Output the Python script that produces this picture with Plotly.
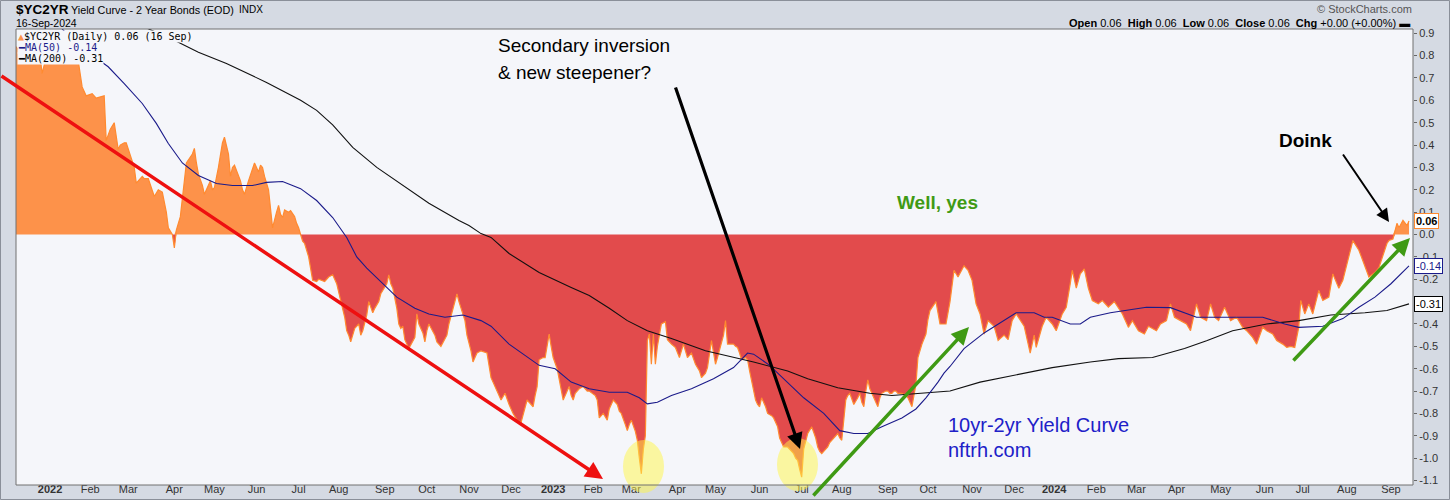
import plotly.graph_objects as go

# ---------------- data ----------------
dates = [
    "2021-12-08", "2021-12-13", "2021-12-17", "2021-12-22", "2021-12-27", "2021-12-28", "2021-12-30",
    "2022-01-03", "2022-01-07", "2022-01-11", "2022-01-14", "2022-01-20", "2022-01-24", "2022-01-26", "2022-01-28",
    "2022-02-02", "2022-02-04", "2022-02-10", "2022-02-11", "2022-02-15", "2022-02-17", "2022-02-22", "2022-02-23",
    "2022-02-25", "2022-02-28",
    "2022-03-04", "2022-03-07", "2022-03-10", "2022-03-11", "2022-03-15", "2022-03-18", "2022-03-22", "2022-03-24",
    "2022-03-28", "2022-03-29", "2022-03-31",
    "2022-04-01", "2022-04-04", "2022-04-06", "2022-04-08", "2022-04-11", "2022-04-14", "2022-04-18", "2022-04-19",
    "2022-04-20", "2022-04-22", "2022-04-25", "2022-04-27", "2022-04-28", "2022-04-29",
    "2022-05-02", "2022-05-04", "2022-05-05", "2022-05-06", "2022-05-09", "2022-05-11", "2022-05-12", "2022-05-13",
    "2022-05-16", "2022-05-18", "2022-05-19", "2022-05-20", "2022-05-23", "2022-05-25", "2022-05-26", "2022-05-27",
    "2022-05-31",
    "2022-06-02", "2022-06-03", "2022-06-06", "2022-06-07", "2022-06-09", "2022-06-10", "2022-06-13", "2022-06-15",
    "2022-06-16", "2022-06-17", "2022-06-21", "2022-06-22", "2022-06-24", "2022-06-27", "2022-06-29", "2022-06-30",
    "2022-07-01", "2022-07-05", "2022-07-06", "2022-07-07", "2022-07-11", "2022-07-13", "2022-07-15", "2022-07-18",
    "2022-07-21", "2022-07-25", "2022-07-27", "2022-07-29",
    "2022-08-02", "2022-08-04", "2022-08-05", "2022-08-08", "2022-08-09", "2022-08-11", "2022-08-15", "2022-08-16",
    "2022-08-17", "2022-08-19", "2022-08-22", "2022-08-24", "2022-08-25", "2022-08-29", "2022-08-30",
    "2022-09-02", "2022-09-06", "2022-09-07", "2022-09-08", "2022-09-12", "2022-09-13", "2022-09-14", "2022-09-15",
    "2022-09-16", "2022-09-20", "2022-09-22", "2022-09-23", "2022-09-26", "2022-09-27", "2022-09-29", "2022-09-30",
    "2022-10-03", "2022-10-04", "2022-10-07", "2022-10-10", "2022-10-12", "2022-10-17", "2022-10-18", "2022-10-20",
    "2022-10-24", "2022-10-25", "2022-10-27", "2022-10-28", "2022-10-31",
    "2022-11-02", "2022-11-03", "2022-11-07", "2022-11-09", "2022-11-14", "2022-11-16", "2022-11-18", "2022-11-23",
    "2022-11-28", "2022-11-30",
    "2022-12-02", "2022-12-06", "2022-12-08", "2022-12-12", "2022-12-13", "2022-12-15", "2022-12-16", "2022-12-19",
    "2022-12-20", "2022-12-21", "2022-12-23", "2022-12-27", "2022-12-28", "2022-12-29", "2022-12-30",
    "2023-01-03", "2023-01-05", "2023-01-06", "2023-01-09", "2023-01-10", "2023-01-12", "2023-01-13", "2023-01-17",
    "2023-01-18", "2023-01-19", "2023-01-20", "2023-01-23", "2023-01-25", "2023-01-27", "2023-01-30",
    "2023-02-02", "2023-02-03", "2023-02-06", "2023-02-08", "2023-02-10", "2023-02-13", "2023-02-15", "2023-02-16",
    "2023-02-17", "2023-02-21", "2023-02-22", "2023-02-24", "2023-02-27", "2023-02-28",
    "2023-03-01", "2023-03-03", "2023-03-06", "2023-03-07", "2023-03-08", "2023-03-09", "2023-03-10", "2023-03-13",
    "2023-03-14", "2023-03-15", "2023-03-16", "2023-03-17", "2023-03-20", "2023-03-22", "2023-03-24", "2023-03-27",
    "2023-03-29", "2023-03-31",
    "2023-04-03", "2023-04-04", "2023-04-05", "2023-04-06", "2023-04-10", "2023-04-11", "2023-04-13", "2023-04-14",
    "2023-04-17", "2023-04-19", "2023-04-20", "2023-04-24", "2023-04-25", "2023-04-27", "2023-04-28",
    "2023-05-01", "2023-05-02", "2023-05-03", "2023-05-05", "2023-05-08", "2023-05-09", "2023-05-11", "2023-05-12",
    "2023-05-15", "2023-05-16", "2023-05-17", "2023-05-18", "2023-05-22", "2023-05-23", "2023-05-24", "2023-05-25",
    "2023-05-26", "2023-05-30", "2023-05-31",
    "2023-06-01", "2023-06-02", "2023-06-06", "2023-06-07", "2023-06-09", "2023-06-12", "2023-06-14", "2023-06-15",
    "2023-06-16", "2023-06-20", "2023-06-21", "2023-06-22", "2023-06-26", "2023-06-27", "2023-06-28", "2023-06-29",
    "2023-06-30",
    "2023-07-03", "2023-07-05", "2023-07-06", "2023-07-07", "2023-07-11", "2023-07-13", "2023-07-14", "2023-07-17",
    "2023-07-18", "2023-07-20", "2023-07-21", "2023-07-24", "2023-07-25", "2023-07-27", "2023-07-28", "2023-07-31",
    "2023-08-01", "2023-08-03", "2023-08-04", "2023-08-07", "2023-08-09", "2023-08-11", "2023-08-14", "2023-08-15",
    "2023-08-16", "2023-08-17", "2023-08-18", "2023-08-21", "2023-08-22", "2023-08-24", "2023-08-25", "2023-08-28",
    "2023-08-29", "2023-08-31",
    "2023-09-01", "2023-09-05", "2023-09-06", "2023-09-07", "2023-09-08", "2023-09-11", "2023-09-13", "2023-09-15",
    "2023-09-18", "2023-09-19", "2023-09-20", "2023-09-21", "2023-09-22", "2023-09-25", "2023-09-27", "2023-09-29",
    "2023-10-02", "2023-10-03", "2023-10-06", "2023-10-10", "2023-10-13", "2023-10-17", "2023-10-19", "2023-10-23",
    "2023-10-26", "2023-10-30",
    "2023-11-01", "2023-11-03", "2023-11-07", "2023-11-09", "2023-11-13", "2023-11-16", "2023-11-20", "2023-11-24",
    "2023-11-28", "2023-11-30",
    "2023-12-04", "2023-12-08", "2023-12-13", "2023-12-15", "2023-12-18", "2023-12-21", "2023-12-26", "2023-12-29",
    "2024-01-03", "2024-01-08", "2024-01-10", "2024-01-12", "2024-01-16", "2024-01-18", "2024-01-22", "2024-01-24",
    "2024-01-26", "2024-01-30",
    "2024-02-02", "2024-02-06", "2024-02-09", "2024-02-14", "2024-02-16", "2024-02-21", "2024-02-26", "2024-02-28",
    "2024-03-04", "2024-03-07", "2024-03-11", "2024-03-15", "2024-03-19", "2024-03-22", "2024-03-26", "2024-03-28",
    "2024-04-03", "2024-04-08", "2024-04-10", "2024-04-15", "2024-04-17", "2024-04-22", "2024-04-24", "2024-04-26",
    "2024-04-30",
    "2024-05-03", "2024-05-08", "2024-05-13", "2024-05-16", "2024-05-20", "2024-05-23", "2024-05-28", "2024-05-31",
    "2024-06-04", "2024-06-07", "2024-06-11", "2024-06-14", "2024-06-18", "2024-06-21", "2024-06-25", "2024-06-27",
    "2024-06-28",
    "2024-07-02", "2024-07-05", "2024-07-09", "2024-07-12", "2024-07-16", "2024-07-19", "2024-07-23", "2024-07-26",
    "2024-07-30",
    "2024-08-02", "2024-08-06", "2024-08-09", "2024-08-13", "2024-08-16", "2024-08-21", "2024-08-23", "2024-08-29",
    "2024-08-30",
    "2024-09-04", "2024-09-05", "2024-09-06", "2024-09-09", "2024-09-11", "2024-09-13", "2024-09-16",
]
spread = [
    0.84, 0.80, 0.83, 0.78, 0.80, 0.72, 0.79,
    0.85, 0.82, 0.87, 0.80, 0.82, 0.78, 0.66, 0.62,
    0.63, 0.61, 0.62, 0.42, 0.47, 0.50, 0.38, 0.40, 0.41, 0.41,
    0.30, 0.23, 0.26, 0.25, 0.25, 0.17, 0.20, 0.19, 0.10, 0.03, 0.00,
    -0.06, 0.02, 0.08, 0.25, 0.32, 0.36, 0.385, 0.32, 0.27, 0.22, 0.18, 0.22, 0.24, 0.20,
    0.21, 0.30, 0.36, 0.41, 0.435, 0.36, 0.26, 0.30, 0.31, 0.26, 0.24, 0.20, 0.18, 0.24, 0.27, 0.30, 0.32,
    0.28, 0.31, 0.30, 0.26, 0.20, 0.10, 0.03, 0.10, 0.13, 0.09, 0.076, 0.11, 0.10, 0.107, 0.08, 0.05,
    0.03, 0.00, -0.03, -0.04, -0.10, -0.205, -0.21, -0.20, -0.21, -0.19, -0.18, -0.22,
    -0.30, -0.37, -0.43, -0.45, -0.48, -0.42, -0.40, -0.45, -0.43, -0.36, -0.30, -0.35, -0.33, -0.30, -0.265,
    -0.22, -0.18, -0.22, -0.24, -0.33, -0.40, -0.42, -0.41, -0.47, -0.51, -0.48, -0.46, -0.355, -0.40, -0.44, -0.48,
    -0.43, -0.40, -0.45, -0.48, -0.50, -0.45, -0.40, -0.33, -0.265, -0.30, -0.36, -0.385, -0.45,
    -0.52, -0.57, -0.53, -0.52, -0.53, -0.64, -0.68, -0.74, -0.71, -0.76,
    -0.80, -0.83, -0.84, -0.78, -0.74, -0.76, -0.77, -0.72, -0.68, -0.56, -0.55, -0.55, -0.50, -0.445, -0.50,
    -0.55, -0.60, -0.65, -0.70, -0.74, -0.70, -0.68, -0.72, -0.74, -0.71, -0.70, -0.69, -0.68, -0.70, -0.70,
    -0.72, -0.74, -0.82, -0.80, -0.83, -0.78, -0.74, -0.75, -0.76, -0.79, -0.80, -0.85, -0.877, -0.85,
    -0.83, -0.88, -0.92, -1.00, -1.07, -0.96, -0.90, -0.474, -0.445, -0.58, -0.445, -0.58, -0.50, -0.40, -0.39,
    -0.47, -0.49, -0.505,
    -0.53, -0.55, -0.52, -0.49, -0.52, -0.55, -0.53, -0.56, -0.58, -0.61, -0.64, -0.62, -0.595, -0.474, -0.52,
    -0.58, -0.55, -0.52, -0.45, -0.385, -0.49, -0.49, -0.49, -0.50, -0.505, -0.53, -0.56, -0.55, -0.56, -0.61,
    -0.65, -0.70, -0.74, -0.76,
    -0.77, -0.73, -0.77, -0.80, -0.81, -0.82, -0.86, -0.91, -0.93, -0.95, -0.95, -0.95, -0.97, -0.98, -1.00,
    -1.01, -1.05,
    -1.085, -0.96, -0.92, -0.89, -0.86, -0.91, -0.95, -0.97, -0.98, -0.96, -0.95, -0.93, -0.92, -0.90, -0.89, -0.91,
    -0.92, -0.74, -0.72, -0.71, -0.76, -0.73, -0.71, -0.75, -0.77, -0.70, -0.65, -0.69, -0.71, -0.75, -0.77, -0.73,
    -0.71, -0.70,
    -0.70, -0.71, -0.71, -0.70, -0.70, -0.71, -0.71, -0.72, -0.73, -0.75, -0.77, -0.72, -0.67, -0.55, -0.49, -0.445,
    -0.38, -0.34, -0.30, -0.40, -0.40, -0.30, -0.16, -0.19, -0.14, -0.16,
    -0.205, -0.31, -0.355, -0.445, -0.385, -0.41, -0.474, -0.45, -0.47, -0.385,
    -0.355, -0.41, -0.53, -0.45, -0.505, -0.41, -0.37, -0.40,
    -0.43, -0.355, -0.325, -0.22, -0.16, -0.24, -0.176, -0.154, -0.24, -0.295,
    -0.31, -0.295, -0.325, -0.30, -0.33, -0.355, -0.415, -0.385,
    -0.43, -0.445, -0.41, -0.43, -0.40, -0.385, -0.31, -0.37,
    -0.385, -0.40, -0.43, -0.31, -0.37, -0.385, -0.31, -0.37, -0.385,
    -0.325, -0.385, -0.37, -0.415, -0.43, -0.46, -0.49, -0.415,
    -0.43, -0.445, -0.474, -0.49, -0.505, -0.50, -0.505, -0.415, -0.295,
    -0.355, -0.31, -0.355, -0.25, -0.295, -0.28, -0.176, -0.24, -0.205,
    -0.10, -0.027, -0.07, -0.116, -0.19, -0.17, -0.148, -0.04, -0.027,
    -0.02, 0.02, 0.05, 0.03, 0.063, 0.04, 0.06,
]

ma50_dates = [
    "2021-12-08", "2021-12-30", "2022-01-20", "2022-02-04", "2022-02-14", "2022-02-25", "2022-03-10", "2022-03-21",
    "2022-03-29", "2022-04-07", "2022-04-20", "2022-05-03", "2022-05-13", "2022-05-27", "2022-06-08", "2022-06-21",
    "2022-07-05", "2022-07-15", "2022-07-27", "2022-08-05", "2022-08-12", "2022-08-19", "2022-08-30", "2022-09-12",
    "2022-09-23", "2022-10-04", "2022-10-14", "2022-10-27", "2022-11-09", "2022-11-16", "2022-11-30", "2022-12-21",
    "2023-01-04", "2023-01-17", "2023-01-30", "2023-02-13", "2023-02-27", "2023-03-07", "2023-03-13", "2023-03-20",
    "2023-03-29", "2023-04-13", "2023-04-28", "2023-05-12", "2023-05-23", "2023-05-26", "2023-06-08", "2023-06-22",
    "2023-07-05", "2023-07-19", "2023-07-31", "2023-08-09", "2023-08-18", "2023-08-29", "2023-09-13", "2023-09-22",
    "2023-09-29", "2023-10-09", "2023-10-12", "2023-10-17", "2023-10-26", "2023-11-09", "2023-11-20", "2023-11-28",
    "2023-12-04", "2023-12-15", "2023-12-22", "2023-12-29", "2024-01-12", "2024-01-22", "2024-01-29", "2024-02-12",
    "2024-02-27", "2024-03-08", "2024-03-26", "2024-04-15", "2024-05-09", "2024-05-31", "2024-06-17", "2024-06-27",
    "2024-07-16", "2024-07-30", "2024-08-09", "2024-08-21", "2024-09-03", "2024-09-16",
]
ma50 = [
    1.12, 1.00, 0.86, 0.79, 0.75, 0.675, 0.586, 0.497,
    0.407, 0.32, 0.264, 0.228, 0.219, 0.219, 0.233, 0.237,
    0.205, 0.152, 0.076, -0.013, -0.10, -0.15, -0.21, -0.28,
    -0.33, -0.355, -0.37, -0.36, -0.385, -0.41, -0.49, -0.585,
    -0.60, -0.66, -0.69, -0.705, -0.705, -0.73, -0.757, -0.75,
    -0.72, -0.69, -0.645, -0.595, -0.53, -0.535, -0.585, -0.66,
    -0.73, -0.80, -0.877, -0.89, -0.89, -0.86, -0.82, -0.78,
    -0.73, -0.66, -0.62, -0.59, -0.51, -0.44, -0.40, -0.37,
    -0.35, -0.35, -0.37, -0.37, -0.40, -0.40, -0.37, -0.35,
    -0.335, -0.325, -0.327, -0.37, -0.37, -0.37, -0.40, -0.415,
    -0.41, -0.376, -0.325, -0.28, -0.22, -0.14,
]

ma200_dates = [
    "2021-12-08", "2022-02-08", "2022-03-15", "2022-04-05", "2022-04-20", "2022-05-10", "2022-06-08", "2022-07-05",
    "2022-07-15", "2022-07-27", "2022-08-10", "2022-08-26", "2022-09-12", "2022-10-04", "2022-10-25", "2022-11-01",
    "2022-11-09", "2022-11-16", "2022-11-30", "2022-12-21", "2023-01-17", "2023-01-30", "2023-02-13", "2023-02-27",
    "2023-03-13", "2023-03-29", "2023-04-24", "2023-05-12", "2023-05-26", "2023-06-22", "2023-07-07", "2023-07-28",
    "2023-08-21", "2023-09-06", "2023-09-25", "2023-10-17", "2023-11-07", "2023-12-01", "2023-12-29", "2024-01-29",
    "2024-02-16", "2024-03-13", "2024-04-05", "2024-04-22", "2024-05-09", "2024-06-04", "2024-06-27", "2024-07-22",
    "2024-08-14", "2024-08-29", "2024-09-16",
]
ma200 = [
    1.20, 1.02, 0.92, 0.86, 0.815, 0.765, 0.68, 0.60,
    0.555, 0.49, 0.39, 0.30, 0.24, 0.14, 0.063, 0.04,
    0.004, -0.013, -0.085, -0.17, -0.237, -0.273, -0.33, -0.385,
    -0.43, -0.465, -0.52, -0.55, -0.57, -0.61, -0.645, -0.685,
    -0.71, -0.72, -0.71, -0.70, -0.66, -0.63, -0.595, -0.57,
    -0.555, -0.55, -0.51, -0.475, -0.43, -0.40, -0.385, -0.36,
    -0.35, -0.34, -0.31,
]

tick_dates = [
    "2022-01-03", "2022-02-01", "2022-03-01", "2022-04-01", "2022-05-02", "2022-06-01", "2022-07-01", "2022-08-01",
    "2022-09-01", "2022-10-03", "2022-11-01", "2022-12-01", "2023-01-03", "2023-02-01", "2023-03-01", "2023-04-03",
    "2023-05-01", "2023-06-01", "2023-07-03", "2023-08-01", "2023-09-01", "2023-10-02", "2023-11-01", "2023-12-01",
    "2024-01-02", "2024-02-01", "2024-03-01", "2024-04-01", "2024-05-01", "2024-06-03", "2024-07-01", "2024-08-01",
    "2024-09-03",
]
tick_labels = [
    "<b>2022</b>", "Feb", "Mar", "Apr", "May", "Jun", "Jul", "Aug", "Sep", "Oct", "Nov", "Dec",
    "<b>2023</b>", "Feb", "Mar", "Apr", "May", "Jun", "Jul", "Aug", "Sep", "Oct", "Nov", "Dec",
    "<b>2024</b>", "Feb", "Mar", "Apr", "May", "Jun", "Jul", "Aug", "Sep",
]
y_ticks = [0.9, 0.8, 0.7, 0.6, 0.5, 0.4, 0.3, 0.2, 0.1, 0.0, -0.1, -0.2, -0.3, -0.4, -0.5, -0.6, -0.7, -0.8,
           -0.9, -1.0, -1.1]

market_holidays = [
    "2021-12-24", "2022-01-17", "2022-02-21", "2022-04-15", "2022-05-30", "2022-06-20", "2022-07-04", "2022-09-05",
    "2022-11-24", "2022-12-26", "2023-01-02", "2023-01-16", "2023-02-20", "2023-04-07", "2023-05-29", "2023-06-19",
    "2023-07-04", "2023-09-04", "2023-11-23", "2023-12-25", "2024-01-01", "2024-01-15", "2024-02-19", "2024-03-29",
    "2024-05-27", "2024-06-19", "2024-07-04", "2024-09-02",
]

# ---------------- styling ----------------
W, H = 1450, 500
L, R, T, B = 16, 1413, 29, 485
SANS = "Liberation Sans, Arial, sans-serif"
NARROW = "Liberation Sans Narrow, Arial Narrow, Liberation Sans, sans-serif"
MONO = "DejaVu Sans Mono, monospace"
PLOT_BG = "#f5f6fa"
PAPER_BG = "#d5dae3"
ORANGE_FILL = "#fd924a"
ORANGE_LINE = "#ff8a30"
RED_FILL = "#e24b4c"
NAVY = "#1b1b8a"
GREEN = "#3f9a14"
BLUE_TXT = "#2020c8"


def px(x):
    return (x - L) / (R - L)


def py(y):
    return (B - y) / (B - T)


pos = [max(v, 0.0) for v in spread]
neg = [min(v, 0.0) for v in spread]

fig = go.Figure()
fig.add_trace(go.Scatter(x=dates, y=pos, mode="lines", fill="tozeroy", fillcolor=ORANGE_FILL,
                         line=dict(width=0, color=ORANGE_FILL), hoverinfo="skip"))
fig.add_trace(go.Scatter(x=dates, y=neg, mode="lines", fill="tozeroy", fillcolor=RED_FILL,
                         line=dict(width=0, color=RED_FILL), hoverinfo="skip"))
fig.add_trace(go.Scatter(x=dates, y=spread, mode="lines", line=dict(color=ORANGE_LINE, width=1.2)))
fig.add_trace(go.Scatter(x=ma200_dates, y=ma200, mode="lines", line=dict(color="#111111", width=1.1)))
fig.add_trace(go.Scatter(x=ma50_dates, y=ma50, mode="lines", line=dict(color=NAVY, width=1.1)))

ann = []


def text(x, y, s, size, color="#000", family=SANS, xanchor="left", bg=None, **kw):
    d = dict(x=px(x), y=py(y), xref="paper", yref="paper", text=s, showarrow=False,
             xanchor=xanchor, yanchor="middle", font=dict(size=size, color=color, family=family),
             borderpad=0)
    if bg:
        d.update(bgcolor=bg)
    d.update(kw)
    ann.append(d)


def arrow(x0, y0, x1, y1, color, width, head=2, size=1.0):
    ann.append(dict(x=px(x1), y=py(y1), xref="paper", yref="paper", ax=x0 - x1, ay=y0 - y1,
                    axref="pixel", ayref="pixel", text="", showarrow=True, arrowhead=head,
                    arrowsize=size, arrowwidth=width, arrowcolor=color, standoff=0, startstandoff=0))


# header
text(15, 9, "<b>$YC2YR</b>", 13.5)
text(70, 10, "Yield Curve - 2 Year Bonds (EOD)", 10.8)
text(238, 10, "INDX", 10)
text(15, 23, "16-Sep-2024", 10.5)
text(R, 9, "© StockCharts.com", 11, color="#555", xanchor="right")
last = spread[-1]
sp = "\u00a0"
text(R - 2, 23, f"<b>Open</b> {last:.2f}{sp}{sp}<b>High</b> {last:.2f}{sp}{sp}<b>Low</b> {last:.2f}{sp}{sp}"
     f"<b>Close</b> {last:.2f}{sp}{sp}<b>Chg</b> +0.00 (+0.00%) ▬", 11, xanchor="right")

# in-plot legend
text(17, 36, f'<span style="color:{ORANGE_FILL}">▲</span>$YC2YR (Daily) {last:.2f} (16 Sep)', 10,
     family=MONO, bg=PLOT_BG)
text(17, 47, f"━MA(50) {ma50[-1]:.2f}", 10, color=NAVY, family=MONO, bg=PLOT_BG)
text(17, 58, f"━MA(200) {ma200[-1]:.2f}", 10, color="#000", family=MONO, bg=PLOT_BG)

# chart commentary
text(497, 46, "Secondary inversion", 19)
text(497, 72, "&amp; new steepener?", 19)
text(896, 203, "<b>Well, yes</b>", 19, color=GREEN)
text(1278, 140, "<b>Doink</b>", 19)
text(947, 425, "10yr-2yr Yield Curve", 20, color=BLUE_TXT)
text(947, 450, "nftrh.com", 20, color=BLUE_TXT)

arrow(0, 75, 603, 479, "#ee1010", 3.5, head=2, size=1.0)
arrow(675, 86, 800, 449, "#000000", 3.2, head=2, size=1.0)
arrow(812, 497, 969, 327, GREEN, 3.5, head=2, size=1.0)
arrow(1292, 362, 1410, 238, GREEN, 3.5, head=2, size=1.0)
arrow(1342, 153, 1389, 222, "#000000", 2, head=2, size=1.3)

# value flags on the right axis
for val, col, bold in [(last, ORANGE_LINE, True), (ma50[-1], NAVY, False), (ma200[-1], "#000000", False)]:
    s = f"{val:.2f}"
    ann.append(dict(x=1, y=val, xref="paper", yref="y", text=f"<b>{s}</b>" if bold else s,
                    showarrow=False, xanchor="left", yanchor="middle", xshift=1,
                    font=dict(size=11, family=SANS, color="#000" if col != NAVY else NAVY),
                    bgcolor="#ffffff", bordercolor=col, borderwidth=1, borderpad=1))

shapes = [
    dict(type="circle", xref="paper", yref="paper", x0=px(623), x1=px(664), y0=py(493), y1=py(440),
         fillcolor="rgba(255,245,70,0.5)", line=dict(width=0), layer="above"),
    dict(type="circle", xref="paper", yref="paper", x0=px(777), x1=px(818), y0=py(491), y1=py(438),
         fillcolor="rgba(255,245,70,0.5)", line=dict(width=0), layer="above"),
    dict(type="rect", xref="paper", yref="paper", x0=0, x1=1, y0=0, y1=1,
         line=dict(color="#707070", width=1), layer="above"),
    dict(type="rect", xref="paper", yref="paper", x0=px(0.5), x1=px(W - 0.5), y0=py(H - 0.5), y1=py(0.5),
         line=dict(color="#8a8f99", width=1), layer="above"),
]

fig.update_layout(
    width=W, height=H,
    margin=dict(l=L, r=W - R, t=T, b=H - B, autoexpand=False),
    paper_bgcolor=PAPER_BG, plot_bgcolor=PLOT_BG,
    showlegend=False,
    annotations=ann, shapes=shapes,
    xaxis=dict(
        type="date", range=["2021-12-08", "2024-09-18"], automargin=False,
        rangebreaks=[dict(bounds=["sat", "mon"]), dict(values=market_holidays)],
        tickmode="array", tickvals=tick_dates, ticktext=tick_labels,
        showgrid=False, zeroline=False, showline=False,
        ticks="", ticklabelstandoff=-4,
        tickfont=dict(family=NARROW, size=11, color="#333"),
    ),
    yaxis=dict(
        side="right", range=[-1.12, 0.919], automargin=False,
        tickmode="array", tickvals=y_ticks, ticktext=[f"{t:.1f}" for t in y_ticks],
        showgrid=False, zeroline=False, showline=False,
        ticks="outside", ticklen=3, tickcolor="#666",
        tickfont=dict(family=SANS, size=11, color="#333"),
    ),
)

fig.write_html("out.html", config={"displayModeBar": False},
               post_script="document.body.style.margin='0px';document.body.style.overflow='hidden';")
